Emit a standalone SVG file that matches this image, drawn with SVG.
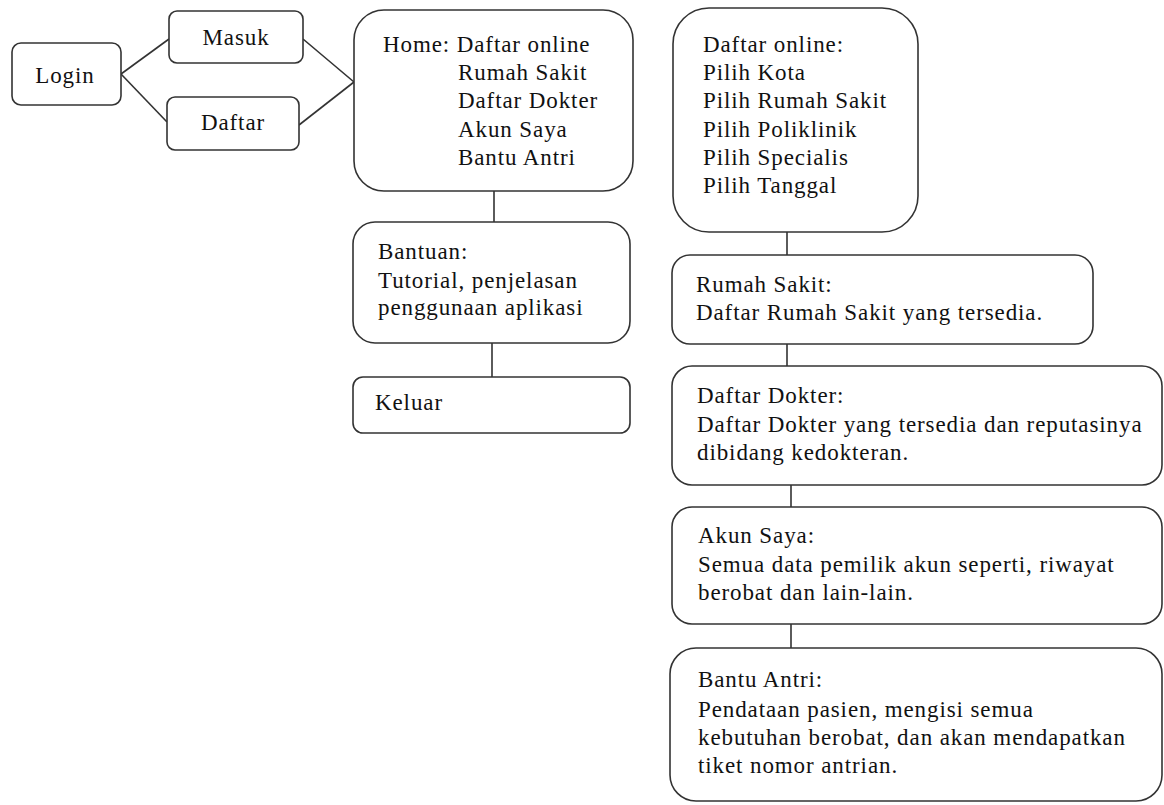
<svg xmlns="http://www.w3.org/2000/svg" width="1164" height="805" viewBox="0 0 1164 805">
<style>
.box{fill:#fff;stroke:#333;stroke-width:1.6}
.ln{fill:none;stroke:#333;stroke-width:1.6}
text{font-family:"Liberation Serif","Times New Roman",serif;font-size:23px;fill:#111;letter-spacing:0.9px}
.c{text-anchor:middle}
</style>
<rect width="1164" height="805" fill="#fff"/>
<g id="connectors">
<line class="ln" x1="121" y1="74" x2="169" y2="39"/>
<line class="ln" x1="121" y1="74" x2="167" y2="122"/>
<line class="ln" x1="303" y1="39" x2="354" y2="82"/>
<line class="ln" x1="299" y1="125" x2="354" y2="82"/>
<line class="ln" x1="494" y1="191" x2="494" y2="222"/>
<line class="ln" x1="492" y1="343" x2="492" y2="377"/>
<line class="ln" x1="787" y1="232" x2="787" y2="255"/>
<line class="ln" x1="787" y1="344" x2="787" y2="366"/>
<line class="ln" x1="791" y1="485" x2="791" y2="507"/>
<line class="ln" x1="791" y1="624" x2="791" y2="648"/>
</g>
<g id="login">
<rect class="box" x="12" y="43" width="109" height="62" rx="9"/>
<text class="c" x="65" y="83">Login</text>
</g>
<g id="masuk">
<rect class="box" x="169" y="11" width="134" height="52" rx="8"/>
<text class="c" x="236" y="45">Masuk</text>
</g>
<g id="daftar">
<rect class="box" x="167" y="97" width="132" height="53" rx="8"/>
<text class="c" x="233" y="130">Daftar</text>
</g>
<g id="home">
<rect class="box" x="354" y="10" width="279" height="181" rx="30"/>
<text x="383" y="52">Home: Daftar online</text>
<text x="458" y="80">Rumah Sakit</text>
<text x="458" y="108">Daftar Dokter</text>
<text x="458" y="137">Akun Saya</text>
<text x="458" y="165">Bantu Antri</text>
</g>
<g id="bantuan">
<rect class="box" x="353" y="222" width="277" height="121" rx="22"/>
<text x="378" y="259">Bantuan:</text>
<text x="378" y="288">Tutorial, penjelasan</text>
<text x="378" y="315">penggunaan aplikasi</text>
</g>
<g id="keluar">
<rect class="box" x="353" y="377" width="277" height="56" rx="10"/>
<text x="375" y="410">Keluar</text>
</g>
<g id="daftar-online">
<rect class="box" x="673" y="8" width="245" height="224" rx="36"/>
<text x="703" y="52">Daftar online:</text>
<text x="703" y="80">Pilih Kota</text>
<text x="703" y="108">Pilih Rumah Sakit</text>
<text x="703" y="137">Pilih Poliklinik</text>
<text x="703" y="165">Pilih Specialis</text>
<text x="703" y="193">Pilih Tanggal</text>
</g>
<g id="rumah-sakit">
<rect class="box" x="672" y="255" width="421" height="89" rx="18"/>
<text x="696" y="292">Rumah Sakit:</text>
<text x="696" y="320">Daftar Rumah Sakit yang tersedia.</text>
</g>
<g id="daftar-dokter">
<rect class="box" x="672" y="366" width="490" height="119" rx="20"/>
<text x="697" y="403">Daftar Dokter:</text>
<text x="697" y="432">Daftar Dokter yang tersedia dan reputasinya</text>
<text x="697" y="460">dibidang kedokteran.</text>
</g>
<g id="akun-saya">
<rect class="box" x="672" y="507" width="490" height="117" rx="20"/>
<text x="698" y="543">Akun Saya:</text>
<text x="698" y="572">Semua data pemilik akun seperti, riwayat</text>
<text x="698" y="600">berobat dan lain-lain.</text>
</g>
<g id="bantu-antri">
<rect class="box" x="670" y="648" width="492" height="153" rx="26"/>
<text x="698" y="687">Bantu Antri:</text>
<text x="698" y="717">Pendataan pasien, mengisi semua</text>
<text x="698" y="745">kebutuhan berobat, dan akan mendapatkan</text>
<text x="698" y="773">tiket nomor antrian.</text>
</g>
</svg>
